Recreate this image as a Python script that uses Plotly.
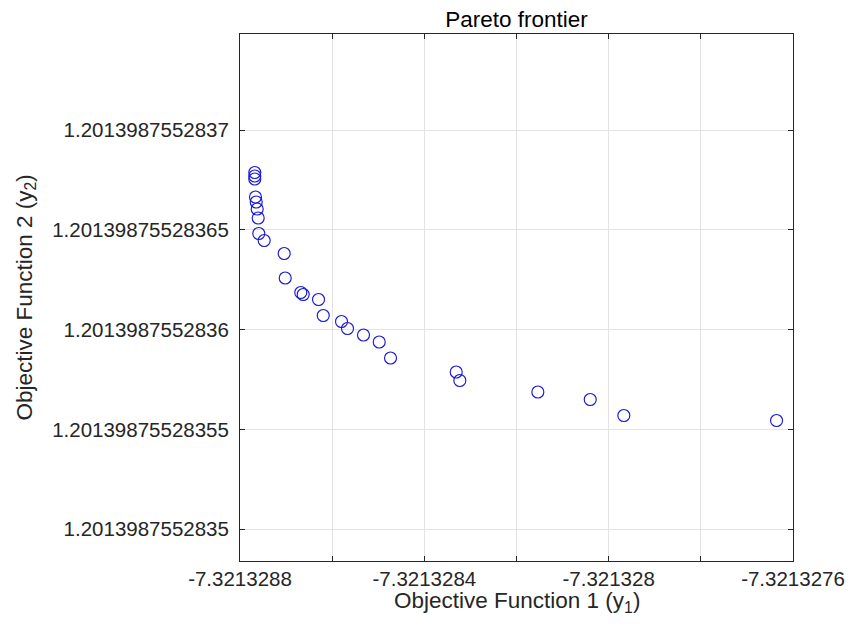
import plotly.graph_objects as go

# Objective Function 1 (y1) values
y1_values = [
    -7.3213287679, -7.3213287679, -7.3213287679, -7.3213287664, -7.3213287648,
    -7.3213287627, -7.3213287605, -7.3213287592, -7.3213287475, -7.3213287041,
    -7.3213287019, -7.3213286681, -7.3213286629, -7.3213286296, -7.3213286194,
    -7.3213285797, -7.3213285667, -7.3213285320, -7.3213284979, -7.3213284734,
    -7.3213283308, -7.3213283230, -7.3213281537, -7.3213280400, -7.3213279671,
    -7.3213276357,
]
# Objective Function 2 (y2) values
y2_values = [
    1.2013987552836787, 1.2013987552836770, 1.2013987552836754, 1.2013987552836665,
    1.2013987552836637, 1.2013987552836603, 1.2013987552836558, 1.2013987552836481,
    1.2013987552836444, 1.2013987552836380, 1.2013987552836258, 1.2013987552836184,
    1.2013987552836174, 1.2013987552836149, 1.2013987552836070, 1.2013987552836040,
    1.2013987552836005, 1.2013987552835971, 1.2013987552835936, 1.2013987552835856,
    1.2013987552835787, 1.2013987552835745, 1.2013987552835687, 1.2013987552835650,
    1.2013987552835569, 1.2013987552835544,
]

x_tick_vals = [-7.3213288, -7.3213284, -7.321328, -7.3213276]
x_tick_text = ["-7.3213288", "-7.3213284", "-7.321328", "-7.3213276"]
x_unlabeled_ticks = [-7.3213286, -7.3213282, -7.3213278]
y_tick_vals = [1.2013987552835, 1.20139875528355, 1.2013987552836, 1.20139875528365, 1.2013987552837]
y_tick_text = ["1.2013987552835", "1.20139875528355", "1.2013987552836", "1.20139875528365", "1.2013987552837"]

x_range = [-7.3213288, -7.3213276]
y_range = [1.201398755283484, 1.201398755283748]

FONT = "Liberation Sans, Arial, Helvetica, sans-serif"
AXIS_COLOR = "#262626"
GRID_COLOR = "#e3e3e3"
TICK_SIZE = 20.5
LABEL_SIZE = 22.5

W, H = 848, 635
# plot area in page pixels: x 240..793, y 34..561
ML, MT = 240, 34
MR, MB = W - 793, H - 561

fig = go.Figure()
fig.add_trace(go.Scatter(
    x=y1_values, y=y2_values, mode="markers",
    marker=dict(symbol="circle-open", size=12, color="rgb(25,25,215)",
                line=dict(width=1.15, color="rgb(25,25,215)")),
    showlegend=False, hoverinfo="skip",
))

axis_common = dict(
    showline=True, linecolor=AXIS_COLOR, linewidth=1, mirror="ticks",
    ticks="inside", ticklen=5, tickcolor=AXIS_COLOR, tickwidth=1,
    showgrid=True, gridcolor=GRID_COLOR, gridwidth=1, zeroline=False,
    automargin=False, tickmode="array",
    tickfont=dict(family=FONT, size=TICK_SIZE, color="#262626"),
)

fig.update_layout(
    width=W, height=H,
    margin=dict(l=ML, r=MR, t=MT, b=MB, pad=0),
    paper_bgcolor="white", plot_bgcolor="white",
    title=dict(text="Pareto frontier", x=(ML + (W - ML - MR) / 2) / W, xanchor="center",
               xref="container", y=1 - 19 / H, yanchor="middle", yref="container",
               font=dict(family=FONT, size=LABEL_SIZE, color="#000000")),
    xaxis=dict(range=x_range, tickvals=x_tick_vals, ticktext=x_tick_text,
               ticklabelstandoff=-1,
               minor=dict(tickmode="array", tickvals=x_unlabeled_ticks, ticks="inside",
                          ticklen=5, tickcolor=AXIS_COLOR, tickwidth=1,
                          showgrid=True, gridcolor=GRID_COLOR, gridwidth=1),
               **axis_common),
    yaxis=dict(range=y_range, tickvals=y_tick_vals, ticktext=y_tick_text,
               ticklabelstandoff=6, **axis_common),
    annotations=[
        dict(text="Objective Function 1 (y<sub>1</sub>)", xref="paper", yref="paper",
             x=0.5, y=0, xanchor="center", yanchor="middle", yshift=-(602 - 561),
             showarrow=False, font=dict(family=FONT, size=LABEL_SIZE, color="#262626")),
        dict(text="Objective Function 2 (y<sub>2</sub>)", xref="paper", yref="paper",
             x=0, y=0.5, xanchor="center", yanchor="middle", xshift=-(240 - 25),
             textangle=-90, showarrow=False,
             font=dict(family=FONT, size=LABEL_SIZE, color="#262626")),
    ],
)

fig.write_html(
    "out.html",
    config={"displayModeBar": False, "staticPlot": True},
    post_script="document.body.style.margin='0';document.body.style.overflow='hidden';",
)
